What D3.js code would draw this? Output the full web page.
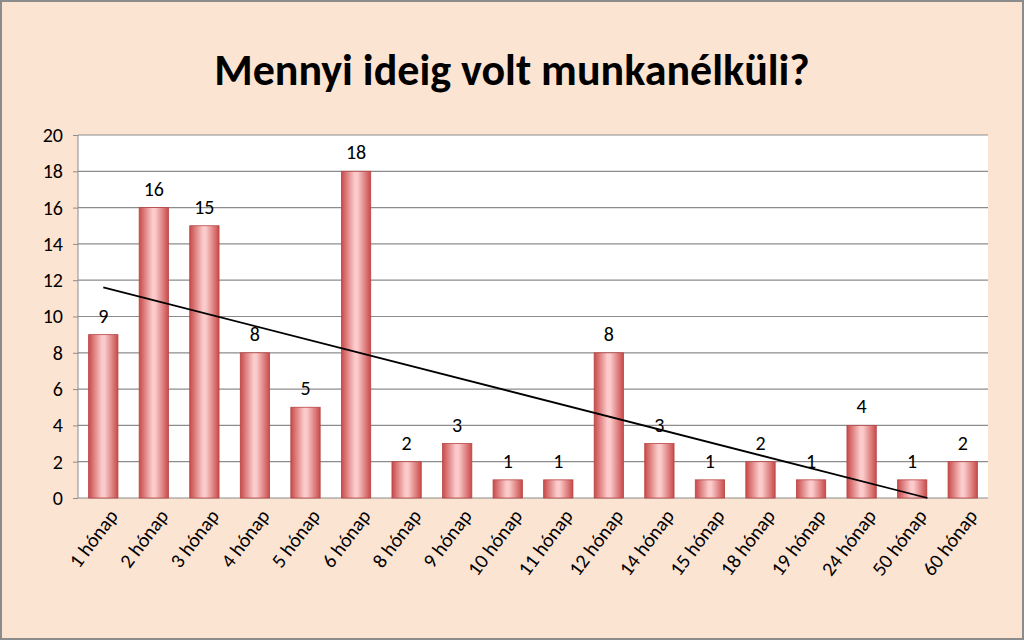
<!DOCTYPE html>
<html><head><meta charset="utf-8">
<script src="https://cdn.jsdelivr.net/npm/d3@7"></script>
<style>body{margin:0;background:#fff}</style>
</head><body>
<svg width="1024" height="640"></svg>
<script>
const categories = ["1 hónap","2 hónap","3 hónap","4 hónap","5 hónap","6 hónap","8 hónap","9 hónap","10 hónap","11 hónap","12 hónap","14 hónap","15 hónap","18 hónap","19 hónap","24 hónap","50 hónap","60 hónap"];
const values = [9,16,15,8,5,18,2,3,1,1,8,3,1,2,1,4,1,2];
const yTicks = [0,2,4,6,8,10,12,14,16,18,20];
const title = "Mennyi ideig volt munkanélküli?";

const svg = d3.select("svg");
const font = "Carlito, 'Open Sans', 'Liberation Sans', sans-serif";

svg.append("rect").attr("x",1).attr("y",1).attr("width",1022).attr("height",638)
  .attr("fill","#fce4d3").attr("stroke","#8c8c8c").attr("stroke-width",2);

svg.append("text").attr("x",512).attr("y",85).attr("text-anchor","middle")
  .style("font-family",font).style("font-weight","bold").style("font-size","44px")
  .text(title);

const pL = 78, pR = 988, pT = 135, pB = 498;
const x = d3.scaleBand().domain(categories).range([pL,pR]).paddingInner(0.42).paddingOuter(0.21);
const y = d3.scaleLinear().domain([0,20]).range([pB,pT]);

svg.append("rect").attr("x",pL).attr("y",pT).attr("width",pR-pL).attr("height",pB-pT).attr("fill","#fff");

svg.append("g").selectAll("line").data(yTicks).join("line")
  .attr("x1",pL).attr("x2",pR).attr("y1",d=>y(d)).attr("y2",d=>y(d))
  .attr("stroke","#8c8c8c").attr("stroke-width",1.2);
svg.append("line").attr("x1",pL).attr("x2",pL).attr("y1",pT).attr("y2",pB).attr("stroke","#8c8c8c");

const yAxis = svg.append("g").attr("transform",`translate(${pL},0)`)
  .call(d3.axisLeft(y).tickValues(yTicks).tickSize(5).tickPadding(10));
yAxis.select(".domain").remove();
yAxis.selectAll("line").attr("stroke","#8c8c8c");
yAxis.selectAll("text").style("font-family",font).style("font-size","20px").attr("fill","#000");

const defs = svg.append("defs");
const g = defs.append("linearGradient").attr("id","bar");
g.append("stop").attr("offset","0%").attr("stop-color","#c94a4a");
g.append("stop").attr("offset","45%").attr("stop-color","#fbcaca");
g.append("stop").attr("offset","55%").attr("stop-color","#fbcaca");
g.append("stop").attr("offset","100%").attr("stop-color","#c94a4a");

svg.append("g").selectAll("rect").data(values).join("rect")
  .attr("x",(d,i)=>x(categories[i])).attr("width",x.bandwidth())
  .attr("y",d=>y(d)).attr("height",d=>pB-y(d))
  .attr("fill","url(#bar)").attr("stroke","#b84444").attr("stroke-width",0.8);

svg.append("g").selectAll("text").data(values).join("text")
  .attr("x",(d,i)=>x(categories[i])+x.bandwidth()/2).attr("y",d=>y(d)-12)
  .attr("text-anchor","middle").style("font-family",font).style("font-size","20px")
  .text(d=>d);

// linear trendline (least squares over category index), clipped at 0
const n = values.length;
const mx = (n+1)/2, my = d3.mean(values);
let sxy=0, sxx=0;
values.forEach((v,i)=>{const xi=i+1; sxy+=(xi-mx)*(v-my); sxx+=(xi-mx)**2;});
const slope = sxy/sxx, icpt = my - slope*mx;
const step = x.step();
const xPos = t => x(categories[0]) + x.bandwidth()/2 + (t-1)*step;
const tEnd = Math.min(n, -icpt/slope);
svg.append("line").attr("x1",xPos(1)).attr("y1",y(icpt+slope))
  .attr("x2",xPos(tEnd)).attr("y2",y(icpt+slope*tEnd))
  .attr("stroke","#000").attr("stroke-width",1.8);

svg.append("g").selectAll("text").data(categories).join("text")
  .attr("transform",d=>`translate(${x(d)+x.bandwidth()/2+10},${pB+14}) rotate(-53)`)
  .attr("text-anchor","end").attr("dy","0.35em")
  .style("font-family",font).style("font-size","20px").text(d=>d);
</script>
</body></html>
